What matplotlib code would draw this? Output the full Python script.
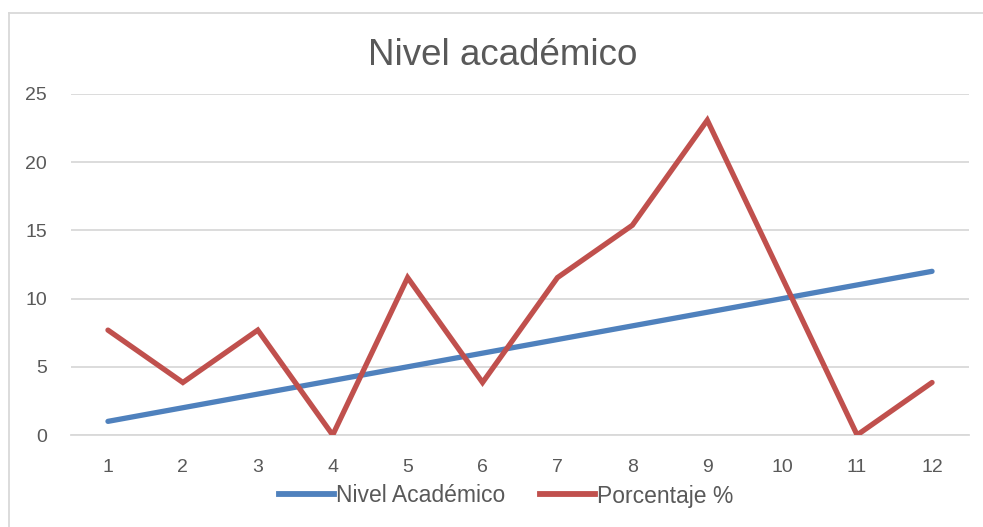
import matplotlib
matplotlib.use("Agg")
import matplotlib.pyplot as plt
from matplotlib.lines import Line2D

categories = [1, 2, 3, 4, 5, 6, 7, 8, 9, 10, 11, 12]
nivel_academico = [1, 2, 3, 4, 5, 6, 7, 8, 9, 10, 11, 12]
porcentaje = [7.69, 3.85, 7.69, 0, 11.54, 3.85, 11.54, 15.38, 23.08, 11.54, 0, 3.85]
series_names = ["Nivel Académico", "Porcentaje %"]
title = "Nivel académico"
y_ticks = [0, 5, 10, 15, 20, 25]

W, H = 983, 527
fig = plt.figure(figsize=(W / 100, H / 100), dpi=100)
ax = fig.add_axes([70.5 / W, 1 - 435 / H, (969.5 - 70.5) / W, (435 - 94) / H])

blue = "#4F81BD"
red = "#C0504D"
grey = "#595959"
font = ["Liberation Sans", "DejaVu Sans"]

ax.plot(categories, nivel_academico, color=blue, lw=3.8, solid_capstyle="round", zorder=3)
ax.plot(categories, porcentaje, color=red, lw=3.8, solid_capstyle="round",
        solid_joinstyle="miter", zorder=4)

ax.set_xlim(0.5, 12.5)
ax.set_ylim(0, 25)
ax.set_yticks(y_ticks)
ax.set_xticks(categories)
ax.set_xticklabels([str(c) for c in categories])
ax.grid(axis="y", color="#D9D9D9", lw=1.3)
ax.set_axisbelow(True)
for s in ax.spines.values():
    s.set_visible(False)
ax.spines["bottom"].set_visible(True)
ax.spines["bottom"].set_color("#D9D9D9")
ax.spines["bottom"].set_linewidth(1.3)
ax.tick_params(length=0, colors=grey)
ax.tick_params(axis="y", pad=17)
ax.tick_params(axis="x", pad=17)
for lab in ax.get_xticklabels() + ax.get_yticklabels():
    lab.set_family(font)
    lab.set_fontsize(14)
    lab.set_color(grey)

fig.text(502.5 / W, 1 - 56 / H, title, ha="center", va="center",
         fontsize=26.5, color=grey, family=font)

handles = [Line2D([], [], color=blue, lw=4.2), Line2D([], [], color=red, lw=4.2)]
fig.legend(handles, series_names, loc="center", bbox_to_anchor=(506 / W, 1 - 496 / H),
           ncol=2, frameon=False, handlelength=2.4, handletextpad=0.1,
           columnspacing=1.5, prop={"family": font, "size": 16.5},
           labelcolor=grey)

# chart area border (left and top visible)
fig.add_artist(Line2D([9 / W, 9 / W], [0, 1 - 13 / H], color="#D9D9D9", lw=1.3,
                      transform=fig.transFigure))
fig.add_artist(Line2D([9 / W, 1], [1 - 13 / H, 1 - 13 / H], color="#D9D9D9", lw=1.3,
                      transform=fig.transFigure))

fig.savefig("out.png", dpi=100)
